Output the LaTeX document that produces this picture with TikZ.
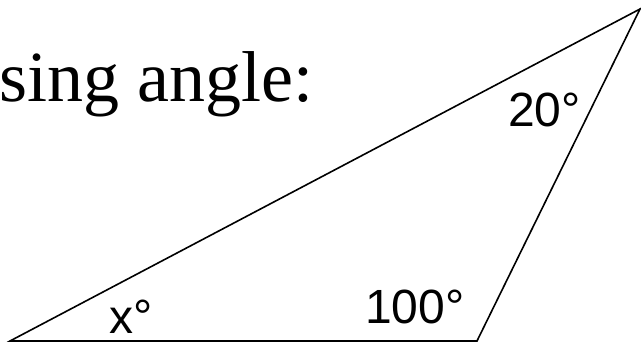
\documentclass[tikz,border=0pt]{standalone}
\usepackage{fontspec}
\setmainfont{Liberation Serif}
\newfontfamily\labelfont{Liberation Sans}
\begin{document}
\begin{tikzpicture}[x=1pt,y=-1pt,
  anglelabel/.style={anchor=base west,inner sep=0pt,font=\labelfont\fontsize{48}{48}\selectfont},
  edge/.style={line width=1.6pt,line join=miter}]
\useasboundingbox (0,0) rectangle (641,345);
\node[anchor=base west,inner sep=0pt,font=\fontsize{72}{72}\selectfont] (title) at (-1,102) {sing angle:};
\coordinate (A) at (10,341);
\coordinate (B) at (477,341);
\coordinate (C) at (640,9);
\draw[edge] (A) -- (B) -- (C) -- cycle;
\node[anglelabel] (x) at (109,333) {x°};
\node[anglelabel] (h) at (365,323) {100°};
\node[anglelabel] (t) at (508,127) {20°};
\end{tikzpicture}
\end{document}
